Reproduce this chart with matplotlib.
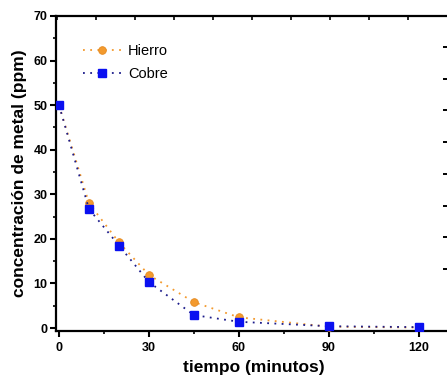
import matplotlib
matplotlib.use("Agg")
import matplotlib.pyplot as plt
from matplotlib.ticker import MultipleLocator, NullFormatter

plt.rcParams['font.family'] = ['Liberation Sans', 'DejaVu Sans']

tiempo = [0, 10, 20, 30, 45, 60, 90, 120]
hierro = [50, 28.0, 19.2, 11.9, 5.8, 2.4, 0.3, 0.1]
cobre = [50, 26.7, 18.5, 10.3, 2.9, 1.4, 0.4, 0.2]
xticks = [0, 30, 60, 90, 120]
yticks = [0, 10, 20, 30, 40, 50, 60, 70]

W, H = 447, 385
fig = plt.figure(figsize=(W / 100, H / 100), dpi=100)
ax = fig.add_axes([56 / W, (H - 331) / H, (451 - 56) / W, (331 - 16) / H])

orange = '#F39A2E'
ax.plot(tiempo, hierro, linestyle=(0, (1, 3)), color=orange, linewidth=1.3,
        marker='o', markersize=5.5, markerfacecolor=orange, markeredgecolor='#E58A20',
        markeredgewidth=0.6, label='Hierro', zorder=3)
ax.plot(tiempo, cobre, linestyle=(0, (1, 3)), color='#1B1B8A', linewidth=1.3,
        marker='s', markersize=5.5, markerfacecolor='#0A10F0', markeredgecolor='#0A10F0',
        label='Cobre', zorder=4)

ax.set_xlim(-1, 130.7)
ax.set_ylim(-0.67, 70)
ax.set_xticks(xticks)
ax.set_yticks(yticks)
ax.xaxis.set_minor_locator(MultipleLocator(15))
ax.yaxis.set_minor_locator(MultipleLocator(5))
for s in ['left', 'bottom', 'top']:
    ax.spines[s].set_linewidth(1.6)
ax.spines['right'].set_visible(False)
ax.tick_params(axis='both', which='major', direction='out', length=4, width=1.5,
               labelsize=9, pad=2)
ax.tick_params(axis='both', which='minor', direction='out', length=2.5, width=1.2)
ax.tick_params(axis='x', pad=4)
for lab in ax.get_xticklabels() + ax.get_yticklabels():
    lab.set_fontweight('bold')

ax.set_xlabel('tiempo (minutos)', fontsize=12.5, fontweight='bold', labelpad=4)
ax.set_ylabel('concentración de metal (ppm)', fontsize=12.5, fontweight='bold', labelpad=5)

# secondary (cut-off) axes tick marks on top and right
axt = ax.twiny()
axt.set_xlim(ax.get_xlim())
axt.set_xticks([-0.67, 12.3, 25.3, 38.3, 51.3, 64.3, 77.3, 90.3, 103.3, 116.3])
axt.xaxis.set_major_formatter(NullFormatter())
axt.tick_params(axis='x', which='major', direction='in', length=3, width=1.2)
for s in axt.spines.values():
    s.set_visible(False)

axr = ax.twinx()
axr.set_ylim(ax.get_ylim())
axr.set_yticks([63.0, 55.8, 48.9, 41.7, 34.5, 27.3, 20.4, 13.2])
axr.yaxis.set_major_formatter(NullFormatter())
axr.tick_params(axis='y', which='major', direction='in', length=6, width=1.4)
for s in axr.spines.values():
    s.set_visible(False)

ax.legend(loc='upper left', bbox_to_anchor=(0.053, 0.93), frameon=False, fontsize=10.5,
          handlelength=2.6, handletextpad=0.5, labelspacing=0.6, borderaxespad=0)

fig.savefig('out.png', dpi=100)
